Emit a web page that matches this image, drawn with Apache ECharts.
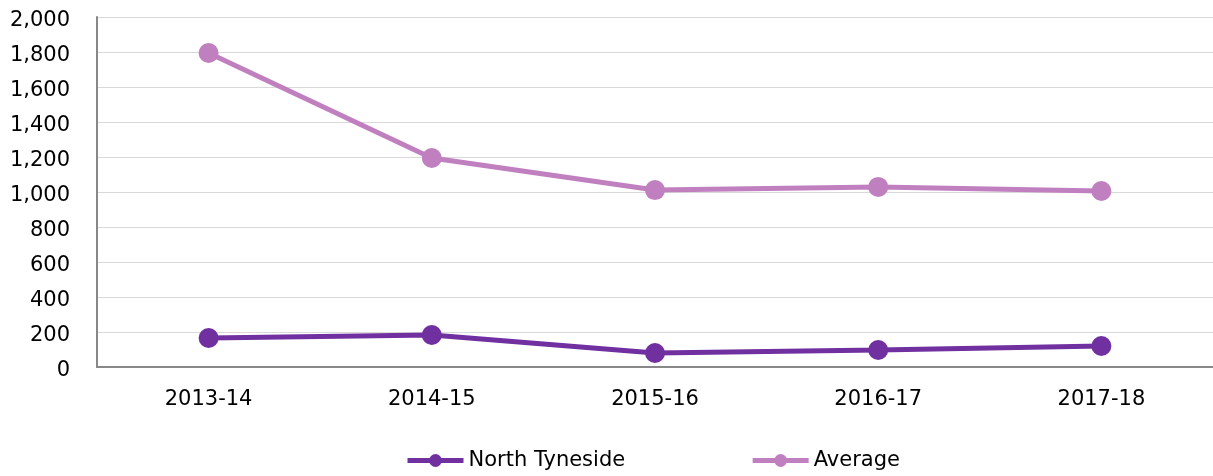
<!DOCTYPE html>
<html>
<head>
<meta charset="utf-8">
<script src="https://cdn.jsdelivr.net/npm/echarts@6/dist/echarts.min.js"></script>
<style>
  html, body { margin: 0; padding: 0; background: #fff; }
  #chart { width: 1213px; height: 476px; }
</style>
</head>
<body>
<div id="chart"></div>
<script>
var years = ['2013-14', '2014-15', '2015-16', '2016-17', '2017-18'];
var northTyneside = [166, 183, 80, 97, 120];
var average = [1794, 1194, 1011, 1029, 1006];

var chart = echarts.init(document.getElementById('chart'));
var font = 'DejaVu Sans, Verdana, sans-serif';

chart.setOption({
  backgroundColor: '#fff',
  animation: false,
  grid: {
    left: 97,
    top: 17,
    width: 1118,
    height: 350
  },
  legend: {
    bottom: 0,
    left: 400,
    itemGap: 125,
    itemWidth: 56,
    itemHeight: 16,
    lineStyle: { width: 5 },
    textStyle: { fontFamily: font, fontSize: 21, color: '#000' },
    data: ['North Tyneside', 'Average']
  },
  xAxis: {
    type: 'category',
    data: years,
    axisLine: { lineStyle: { color: '#888', width: 2 } },
    axisTick: { show: false },
    axisLabel: { fontFamily: font, fontSize: 21, color: '#000', margin: 22 }
  },
  yAxis: {
    type: 'value',
    min: 0,
    max: 2000,
    interval: 200,
    axisLine: { show: true, lineStyle: { color: '#888', width: 2 } },
    axisTick: { show: false },
    splitLine: { lineStyle: { color: '#d9d9d9', width: 1 } },
    axisLabel: {
      fontFamily: font, fontSize: 21, color: '#000', margin: 27,
      formatter: function (v) { return '{a|' + v.toLocaleString('en-US') + '}'; },
      rich: { a: { fontFamily: font, fontSize: 21, color: '#000', padding: [7, 0, 0, 0] } }
    }
  },
  series: [
    {
      name: 'North Tyneside',
      type: 'line',
      data: northTyneside,
      symbol: 'circle',
      symbolSize: 20,
      lineStyle: { color: '#7030a0', width: 5 },
      itemStyle: { color: '#7030a0' }
    },
    {
      name: 'Average',
      type: 'line',
      data: average,
      symbol: 'circle',
      symbolSize: 20,
      lineStyle: { color: '#c080c0', width: 5 },
      itemStyle: { color: '#c080c0' }
    }
  ]
});
</script>
</body>
</html>
